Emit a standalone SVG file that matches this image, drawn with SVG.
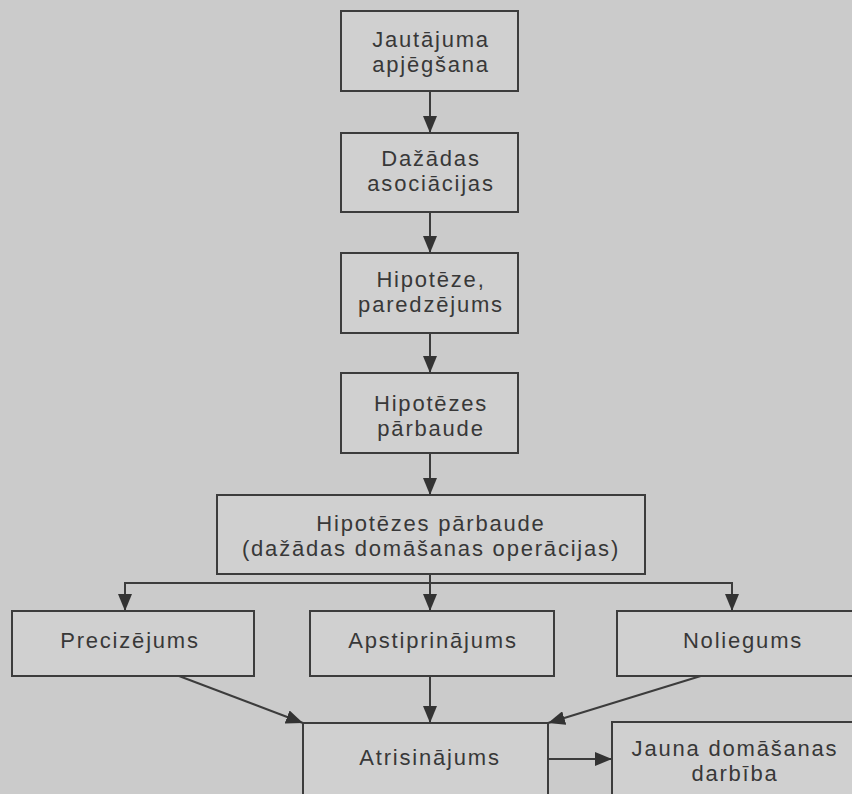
<svg xmlns="http://www.w3.org/2000/svg" width="852" height="794" viewBox="0 0 852 794">
<defs>
<style>
.bx{fill:#d0d0d0;stroke:#3c3c3c;stroke-width:2}
.t{font-family:"Liberation Sans",Arial,sans-serif;font-size:22px;fill:#383838;text-anchor:middle;letter-spacing:1.8px}
.c{fill:none;stroke:#3c3c3c;stroke-width:2}
</style>
<marker id="ah" markerUnits="userSpaceOnUse" markerWidth="18" markerHeight="14" refX="17" refY="7" orient="auto">
<path d="M0,0 L17,7 L0,14 z" fill="#333"/>
</marker>
</defs>
<rect x="0" y="0" width="852" height="794" fill="#cbcbcb"/>
<g id="connectors">
<path class="c" d="M430 91 V133" marker-end="url(#ah)"/>
<path class="c" d="M430 212 V253" marker-end="url(#ah)"/>
<path class="c" d="M430 333 V373" marker-end="url(#ah)"/>
<path class="c" d="M430 453 V495" marker-end="url(#ah)"/>
<path class="c" d="M430 574 V611" marker-end="url(#ah)"/>
<path class="c" d="M430 583 H125 V611" marker-end="url(#ah)"/>
<path class="c" d="M430 583 H732 V611" marker-end="url(#ah)"/>
<path class="c" d="M179 676 L303 723" marker-end="url(#ah)"/>
<path class="c" d="M430 676 V723" marker-end="url(#ah)"/>
<path class="c" d="M704 675 L548 723" marker-end="url(#ah)"/>
<path class="c" d="M548 759 H612" marker-end="url(#ah)"/>
</g>
<g id="n1"><rect class="bx" x="341" y="11" width="177" height="80"/><text class="t" x="431" y="47">Jautājuma</text><text class="t" x="431" y="72">apjēgšana</text></g>
<g id="n2"><rect class="bx" x="341" y="133" width="177" height="79"/><text class="t" x="431" y="166">Dažādas</text><text class="t" x="431" y="191">asociācijas</text></g>
<g id="n3"><rect class="bx" x="341" y="253" width="177" height="80"/><text class="t" x="431" y="287">Hipotēze,</text><text class="t" x="431" y="312">paredzējums</text></g>
<g id="n4"><rect class="bx" x="341" y="373" width="177" height="80"/><text class="t" x="431" y="410.5">Hipotēzes</text><text class="t" x="431" y="435.5">pārbaude</text></g>
<g id="n5"><rect class="bx" x="217" y="495" width="428" height="79"/><text class="t" x="431" y="530.5">Hipotēzes pārbaude</text><text class="t" x="431" y="555.5">(dažādas domāšanas operācijas)</text></g>
<g id="n6"><rect class="bx" x="12" y="611" width="242" height="65"/><text class="t" x="130" y="648">Precizējums</text></g>
<g id="n7"><rect class="bx" x="310" y="611" width="244" height="65"/><text class="t" x="433" y="648">Apstiprinājums</text></g>
<g id="n8"><rect class="bx" x="617" y="611" width="250" height="65"/><text class="t" x="743" y="648">Noliegums</text></g>
<g id="n9"><rect class="bx" x="303" y="723" width="245" height="90"/><text class="t" x="430" y="765">Atrisinājums</text></g>
<g id="n10"><rect class="bx" x="612" y="722" width="246" height="90"/><text class="t" x="735" y="756">Jauna domāšanas</text><text class="t" x="735" y="781">darbība</text></g>
</svg>
